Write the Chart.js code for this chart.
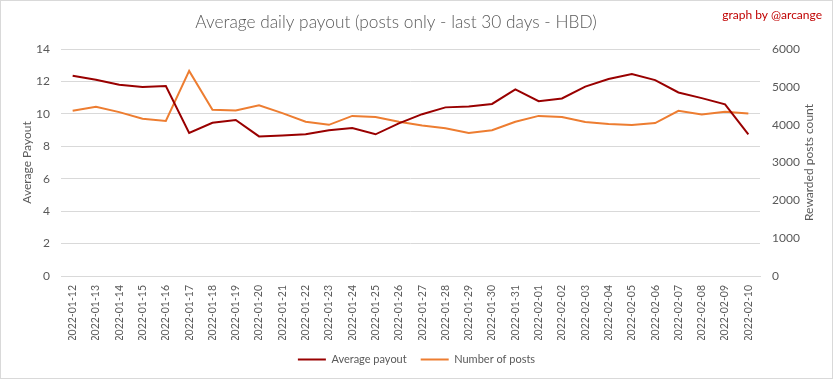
<!DOCTYPE html>
<html>
<head>
<meta charset="utf-8">
<script src="https://cdn.jsdelivr.net/npm/chart.js@4/dist/chart.umd.min.js"></script>
<style>
html,body{margin:0;padding:0;background:#fff;}
#wrap{width:833px;height:379px;position:relative;}
</style>
</head>
<body>
<div id="wrap"><canvas id="c" width="833" height="379"></canvas></div>
<script>
const dates = ["2022-01-12","2022-01-13","2022-01-14","2022-01-15","2022-01-16","2022-01-17","2022-01-18","2022-01-19","2022-01-20","2022-01-21","2022-01-22","2022-01-23","2022-01-24","2022-01-25","2022-01-26","2022-01-27","2022-01-28","2022-01-29","2022-01-30","2022-01-31","2022-02-01","2022-02-02","2022-02-03","2022-02-04","2022-02-05","2022-02-06","2022-02-07","2022-02-08","2022-02-09","2022-02-10"];
const averagePayout = [12.35,12.1,11.79,11.66,11.72,8.82,9.45,9.62,8.61,8.66,8.74,8.99,9.12,8.74,9.41,9.98,10.4,10.46,10.61,11.51,10.78,10.95,11.68,12.15,12.46,12.08,11.32,10.97,10.59,8.74];
const numberOfPosts = [4367,4475,4331,4159,4096,5421,4394,4375,4510,4305,4077,3996,4232,4205,4077,3980,3907,3780,3853,4077,4232,4205,4069,4015,3988,4042,4367,4267,4340,4294];
const leftTicks = [0,2,4,6,8,10,12,14];
const rightTicks = [0,1000,2000,3000,4000,5000,6000];

const FONT = "Lato, 'Open Sans', sans-serif";
const GRAY = "#595959";

const decor = {
  id: 'decor',
  beforeDraw(chart) {
    const ctx = chart.ctx;
    ctx.save();
    ctx.fillStyle = '#fff';
    ctx.fillRect(0, 0, chart.width, chart.height);
    ctx.restore();
  },
  afterDraw(chart) {
    const ctx = chart.ctx;
    ctx.save();
    ctx.strokeStyle = '#d9d9d9';
    ctx.lineWidth = 1;
    ctx.strokeRect(0.5, 0.5, chart.width - 1, chart.height - 1);
    ctx.fillStyle = GRAY;
    ctx.font = "300 17.3px " + FONT;
    ctx.textAlign = 'center';
    ctx.textBaseline = 'middle';
    ctx.fillText("Average daily payout (posts only - last 30 days - HBD)", 396, 22);
    ctx.fillStyle = '#c00000';
    ctx.font = "12px " + FONT;
    ctx.textAlign = 'right';
    ctx.fillText("graph by @arcange", 822, 15);
    ctx.translate(809, (chart.chartArea.top + chart.chartArea.bottom) / 2);
    ctx.rotate(-Math.PI / 2);
    ctx.textAlign = 'center';
    ctx.fillStyle = GRAY;
    ctx.font = "12px " + FONT;
    ctx.fillText("Rewarded posts count", 0, 0);
    ctx.restore();
  }
};

new Chart(document.getElementById('c'), {
  type: 'line',
  data: {
    labels: dates,
    datasets: [
      { label: 'Average payout', data: averagePayout, yAxisID: 'y', borderColor: '#990000', backgroundColor: '#990000', borderWidth: 2, pointRadius: 0, tension: 0 },
      { label: 'Number of posts', data: numberOfPosts, yAxisID: 'y1', borderColor: '#ed7d31', backgroundColor: '#ed7d31', borderWidth: 2, pointRadius: 0, tension: 0 }
    ]
  },
  options: {
    responsive: false,
    animation: false,
    layout: { padding: { top: 49, left: 0, right: 0, bottom: 4 } },
    plugins: {
      legend: {
        position: 'bottom',
        labels: { usePointStyle: true, pointStyle: 'line', pointStyleWidth: 28, color: GRAY, font: { family: FONT, size: 11 }, padding: 14 }
      },
      tooltip: { enabled: false },
      title: { display: false }
    },
    scales: {
      x: {
        offset: true,
        grid: { display: false, drawTicks: false, offset: true },
        border: { display: true, color: '#d9d9d9' },
        ticks: { autoSkip: false, minRotation: 90, maxRotation: 90, padding: 9, color: GRAY, font: { family: FONT, size: 10.5 } },
        afterFit(s) { s.height = 64; }
      },
      y: {
        position: 'left',
        min: 0, max: 14,
        afterBuildTicks(s) { s.ticks = leftTicks.map(v => ({ value: v })); },
        grid: { color: '#d9d9d9', drawTicks: false },
        border: { display: false },
        ticks: { padding: 11, color: GRAY, font: { family: FONT, size: 12 } },
        title: { display: true, text: 'Average Payout', color: GRAY, font: { family: FONT, size: 12 }, padding: { top: 20, bottom: 0 } },
        afterFit(s) { s.width = 61; }
      },
      y1: {
        position: 'right',
        min: 0, max: 6000,
        afterBuildTicks(s) { s.ticks = rightTicks.map(v => ({ value: v })); },
        grid: { display: false, drawTicks: false },
        border: { display: false },
        ticks: { padding: 12, color: GRAY, font: { family: FONT, size: 12 }, callback: (v) => String(v) },
        afterFit(s) { s.width = 73; }
      }
    }
  },
  plugins: [decor]
});
</script>
</body>
</html>
